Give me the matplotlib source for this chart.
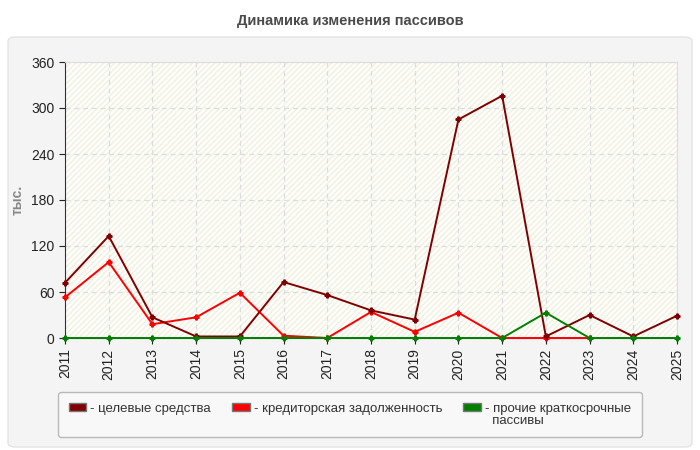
import matplotlib
matplotlib.use('Agg')
from matplotlib import pyplot as plt
from matplotlib.patches import FancyBboxPatch, Patch

years = [2011, 2012, 2013, 2014, 2015, 2016, 2017, 2018, 2019, 2020, 2021, 2022, 2023, 2024, 2025]
target_funds = [72, 133, 27, 2, 2, 73, 56, 36, 24, 285, 316, 2, 30, 2, 29]
payables = [53, 99, 18, 27, 59, 3, 0, 34, 8, 33, 0, 0, 0, None, None]
other_short = [0, 0, 0, 0, 0, 0, 0, 0, 0, 0, 0, 33, 0, 0, 0]

series_names = ['целевые средства', 'кредиторская задолженность', 'прочие краткосрочные']
name_tail = ['', '', 'пассивы']
series_colors = ['#800000', '#ff0000', '#008000']
y_ticks = [0, 60, 120, 180, 240, 300, 360]

plt.rcParams['font.family'] = ['Liberation Sans', 'DejaVu Sans']

fig = plt.figure(figsize=(7, 4.5), dpi=100)
fig.patch.set_facecolor('white')

# Gray panel behind the chart
panel = FancyBboxPatch((8 / 700, 3 / 450), 684 / 700, 410 / 450,
                       boxstyle='round,pad=0,rounding_size=0.01',
                       transform=fig.transFigure, facecolor='#f4f4f4',
                       edgecolor='#e4e4e4', linewidth=1, zorder=-10)
fig.patches.append(panel)

fig.text(0.5, 1 - 21 / 450, 'Динамика изменения пассивов', ha='center', va='center',
         fontsize=10.5, fontweight='bold', color='#4a4a4a')

ax = fig.add_axes([65 / 700, 1 - 338 / 450, 612 / 700, 276 / 450])
ax.set_facecolor('#fffff8')
ax.fill_between([2011, 2025], 0, 360, facecolor='none', edgecolor='#f0f0ea',
                hatch='//////', linewidth=0, zorder=0)

data = [target_funds, payables, other_short]
order = [1, 0, 2]
for i in order:
    vals = [float('nan') if v is None else v for v in data[i]]
    ax.plot(years, vals, color=series_colors[i], linewidth=1.4, marker='P',
            markersize=3.5, zorder=3 + (1 if i == 2 else 0), clip_on=False)

ax.set_xlim(2011, 2025)
ax.set_ylim(0, 360)
ax.set_yticks(y_ticks)
ax.set_xticks(years)
ax.set_xticklabels([str(y) for y in years], rotation=90)
ax.tick_params(labelsize=10, colors='#222222', length=4)
ax.grid(True, color='#dddddd', linestyle=(0, (4, 3)), linewidth=0.9)
ax.set_axisbelow(True)
for side in ['top', 'right']:
    ax.spines[side].set_color('#dddddd')
for side in ['left', 'bottom']:
    ax.spines[side].set_color('#333333')

fig.text(18 / 700, 1 - 200 / 450, 'тыс.', rotation=90, ha='center', va='center',
         fontsize=10, fontweight='bold', color='#888888')

# Legend: each column has the swatch row and a second row for wrapped text
handles = []
labels = []
for c, n, tail in zip(series_colors, series_names, name_tail):
    handles.append(Patch(facecolor=c, edgecolor='#777777'))
    labels.append('- ' + n)
    handles.append(Patch(facecolor='none', edgecolor='none'))
    labels.append('  ' + tail if tail else ' ')
leg = fig.legend(handles, labels, loc='upper left', bbox_to_anchor=(58 / 700, 1 - 392 / 450),
                 ncol=3, fontsize=9.5, frameon=True, handlelength=1.35, handleheight=0.6,
                 handletextpad=0.3, columnspacing=1.6, borderpad=0.8, fancybox=True,
                 labelspacing=0.0, borderaxespad=0)
leg.get_frame().set_facecolor('#fafafa')
leg.get_frame().set_edgecolor('#aaaaaa')
for t in leg.get_texts():
    t.set_color('#333333')

fig.savefig('out.png', dpi=100)
